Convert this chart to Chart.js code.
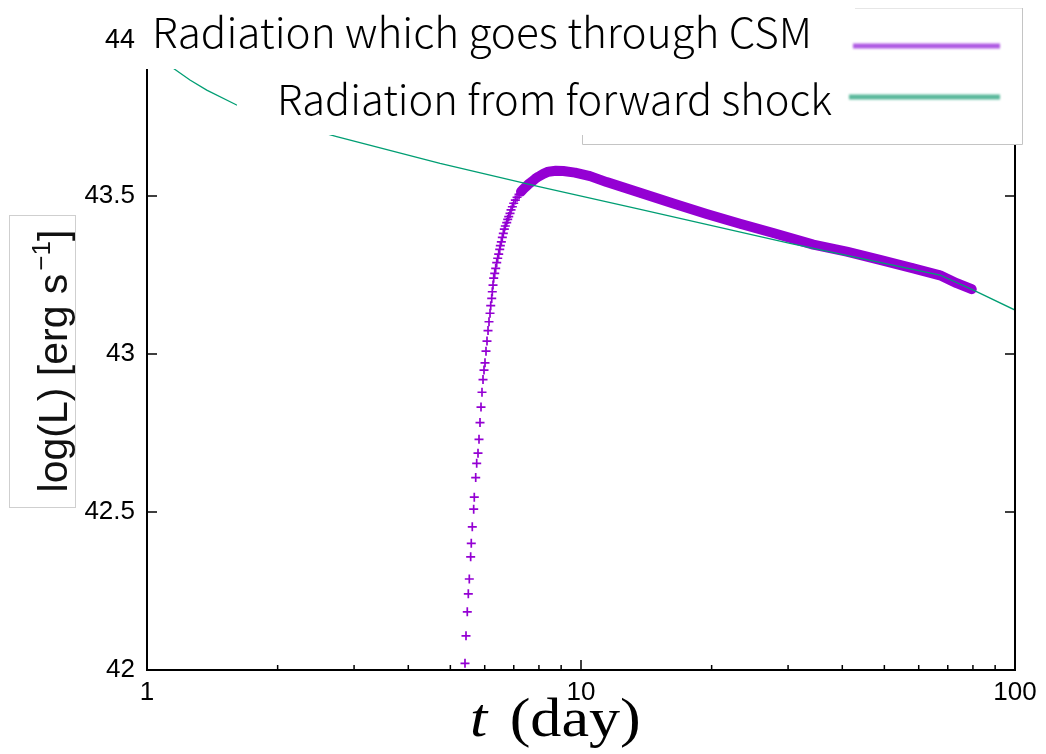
<!DOCTYPE html>
<html>
<head>
<meta charset="utf-8">
<script src="https://cdn.jsdelivr.net/npm/chart.js@4.4.1/dist/chart.umd.min.js"></script>
<style>
  html, body { margin: 0; padding: 0; background: #fff; }
  #wrap { width: 1046px; height: 754px; }
</style>
</head>
<body>
<div id="wrap"><canvas id="lc" width="1046" height="754"></canvas></div>
<script>
// forward shock: time (day) and log L
var shockT = [1.000, 1.156, 1.256, 1.373, 1.609, 2.08, 2.736, 4.733, 8.046, 13.7, 30.30, 67.18, 80.88, 100];
var shockL = [43.962, 43.902, 43.867, 43.835, 43.788, 43.734, 43.688, 43.603, 43.529, 43.458, 43.350, 43.250, 43.200, 43.139];

// radiation through the CSM: time (day) and log L
var csmT = [5.404, 5.433, 5.470, 5.500, 5.529, 5.569, 5.587, 5.617, 5.659, 5.677,
            5.720, 5.750, 5.790, 5.821, 5.852, 5.883, 5.914, 5.946, 5.977, 6.009,
            6.041, 6.073, 6.106, 6.138, 6.171, 6.194, 6.227, 6.246, 6.270, 6.293,
            6.327, 6.360, 6.394, 6.428, 6.462, 6.497, 6.518, 6.553, 6.587, 6.622,
            6.658, 6.693, 6.743, 6.779, 6.815, 6.862, 6.899, 6.947, 6.998, 7.058,
            7.122, 7.198, 7.275, 7.364, 7.458, 7.562, 7.699, 7.836, 7.974, 8.188,
            8.408, 8.75, 9.105, 9.687, 10.49, 11.46, 13.68, 16.32, 19.48, 23.25,
            27.74, 34.30, 40.95, 48.86, 58.31, 67.18, 73.39, 79.48];
var csmL = [42.021, 42.108, 42.184, 42.241, 42.288, 42.358, 42.401, 42.453, 42.509, 42.547,
            42.609, 42.654, 42.686, 42.730, 42.783, 42.832, 42.879, 42.919, 42.949, 42.972,
            43.009, 43.041, 43.074, 43.102, 43.129, 43.153, 43.176, 43.197, 43.218, 43.240,
            43.255, 43.271, 43.289, 43.303, 43.316, 43.331, 43.343, 43.355, 43.369, 43.382,
            43.395, 43.405, 43.416, 43.426, 43.435, 43.445, 43.456, 43.466, 43.477, 43.487,
            43.496, 43.505, 43.514, 43.522, 43.529, 43.537, 43.545, 43.554, 43.561, 43.570,
            43.577, 43.580, 43.579, 43.574, 43.563, 43.544, 43.510, 43.476, 43.443, 43.412,
            43.383, 43.346, 43.324, 43.298, 43.271, 43.249, 43.224, 43.205];

var xTicks = [1, 10, 100];
var xMinor = [2, 3, 4, 5, 6, 7, 8, 9, 20, 30, 40, 50, 60, 70, 80, 90];
var yTicks = [42, 42.5, 43, 43.5, 44];
var legendLabels = ['Radiation which goes through CSM', 'Radiation from forward shock'];

var bandFrom = 7.2;   // past this day the CSM samples sit on top of each other
var purple = '#9400d3';
var green = '#009e73';

function pts(xs, ys) {
  return xs.map(function(v, i) { return { x: v, y: ys[i] }; });
}
var csmPts = pts(csmT, csmL);
var bandPts = csmPts.filter(function(p) { return p.x >= bandFrom; });

// frame, inward ticks, legend panel and axis titles
var decor = {
  id: 'decor',
  afterDraw: function(chart) {
    var ctx = chart.ctx, a = chart.chartArea;
    var xs = chart.scales.x, ys = chart.scales.y;
    ctx.save();

    ctx.strokeStyle = '#000';
    ctx.lineWidth = 1.5;
    ctx.beginPath();
    xTicks.forEach(function(v) {
      var px = xs.getPixelForValue(v);
      ctx.moveTo(px, a.bottom); ctx.lineTo(px, a.bottom - 10);
      ctx.moveTo(px, a.top); ctx.lineTo(px, a.top + 10);
    });
    xMinor.forEach(function(v) {
      var px = xs.getPixelForValue(v);
      ctx.moveTo(px, a.bottom); ctx.lineTo(px, a.bottom - 5);
      ctx.moveTo(px, a.top); ctx.lineTo(px, a.top + 5);
    });
    yTicks.forEach(function(v) {
      var py = ys.getPixelForValue(v);
      ctx.moveTo(a.left, py); ctx.lineTo(a.left + 10, py);
      ctx.moveTo(a.right, py); ctx.lineTo(a.right - 10, py);
    });
    ctx.stroke();
    ctx.lineWidth = 2;
    ctx.strokeRect(a.left, a.top, a.right - a.left, a.bottom - a.top);

    // pasted legend panel
    ctx.fillStyle = '#fff';
    ctx.fillRect(140, 0, 883, 69);
    ctx.fillRect(237, 60, 346, 75);
    ctx.fillRect(582, 0, 441, 145);
    ctx.strokeStyle = '#c4c4c4';
    ctx.lineWidth = 1;
    ctx.beginPath();
    ctx.moveTo(582.5, 135); ctx.lineTo(582.5, 144.5); ctx.lineTo(1022.5, 144.5); ctx.lineTo(1022.5, 8);
    ctx.stroke();
    ctx.strokeStyle = '#e6e6e6';
    ctx.beginPath();
    ctx.moveTo(855, 8.5); ctx.lineTo(1022, 8.5);
    ctx.stroke();

    ctx.fillStyle = '#000';
    ctx.textBaseline = 'alphabetic';
    ctx.textAlign = 'left';
    ctx.font = '300 41px "Noto Sans CJK JP"';
    var rows = [[152, 48, 660], [277, 115, 555]];
    rows.forEach(function(r, i) {
      var w = ctx.measureText(legendLabels[i]).width;
      ctx.save();
      ctx.translate(r[0], r[1]);
      ctx.scale(r[2] / w, 1);
      ctx.fillText(legendLabels[i], 0, 0);
      ctx.restore();
    });

    ctx.lineCap = 'butt';
    ctx.filter = 'blur(0.8px)';
    ctx.lineWidth = 5;
    ctx.strokeStyle = 'rgba(170, 80, 225, 0.95)';
    ctx.beginPath(); ctx.moveTo(853, 46); ctx.lineTo(1000, 46); ctx.stroke();
    ctx.strokeStyle = 'rgba(80, 180, 150, 0.95)';
    ctx.beginPath(); ctx.moveTo(849, 97); ctx.lineTo(1000, 97); ctx.stroke();
    ctx.filter = 'none';

    // y axis title in its own box
    ctx.fillStyle = '#fff';
    ctx.fillRect(9, 215, 67, 293);
    ctx.lineWidth = 1;
    ctx.strokeStyle = '#cfcfcf';
    ctx.strokeRect(9.5, 215.5, 66, 292);
    ctx.fillStyle = '#111';
    var main = 'log(L) [erg s', sup = '\u22121', tail = ']';
    ctx.font = '41px "Liberation Sans"';
    var w1 = ctx.measureText(main).width, w3 = ctx.measureText(tail).width;
    ctx.font = '26px "Liberation Sans"';
    var w2 = ctx.measureText(sup).width + 3;
    var total = w1 + w2 + w3;
    ctx.save();
    ctx.translate(67, 361);
    ctx.rotate(-Math.PI / 2);
    ctx.font = '41px "Liberation Sans"';
    ctx.fillText(main, -total / 2, 0);
    ctx.fillText(tail, -total / 2 + w1 + w2, 0);
    ctx.font = '26px "Liberation Sans"';
    ctx.fillText(sup, -total / 2 + w1 + 3, -17);
    ctx.restore();

    // x axis title
    ctx.fillStyle = '#000';
    ctx.save();
    ctx.translate(470, 736);
    ctx.scale(1.15, 1);
    ctx.font = 'italic 54px "Liberation Serif"';
    ctx.fillText('t', 0, 0);
    var tw = ctx.measureText('t ').width;
    ctx.font = '54px "Liberation Serif"';
    ctx.fillText('(day)', tw + 6, 0);
    ctx.restore();

    ctx.restore();
  }
};

new Chart(document.getElementById('lc'), {
  type: 'scatter',
  data: {
    datasets: [{
      label: legendLabels[1],
      data: pts(shockT, shockL),
      showLine: true,
      borderColor: green,
      borderWidth: 1.3,
      pointRadius: 0,
      tension: 0,
      order: 0
    }, {
      label: legendLabels[0],
      data: bandPts,
      showLine: true,
      borderColor: purple,
      borderWidth: 10,
      borderCapStyle: 'round',
      borderJoinStyle: 'round',
      pointRadius: 0,
      tension: 0,
      order: 1
    }, {
      label: legendLabels[0],
      data: csmPts,
      showLine: false,
      pointStyle: 'cross',
      pointRadius: 4.5,
      pointBorderWidth: 1.7,
      borderColor: purple,
      backgroundColor: purple,
      order: 2
    }]
  },
  options: {
    responsive: false,
    animation: false,
    layout: { padding: { top: 38, right: 31, left: 0, bottom: 0 } },
    plugins: {
      legend: { display: false },
      tooltip: { enabled: false }
    },
    scales: {
      x: {
        type: 'logarithmic',
        min: 1,
        max: 100,
        grid: { display: false, drawTicks: false },
        border: { display: false },
        afterFit: function(s) { s.height = 84; },
        afterBuildTicks: function(s) {
          s.ticks = xTicks.map(function(v) { return { value: v }; });
        },
        ticks: {
          autoSkip: false,
          maxRotation: 0,
          padding: 7,
          color: '#000',
          font: { family: 'Liberation Sans', size: 26 },
          callback: function(v) { return String(v); }
        }
      },
      y: {
        min: 42,
        max: 44,
        grid: { display: false, drawTicks: false },
        border: { display: false },
        afterFit: function(s) { s.width = 147; },
        afterBuildTicks: function(s) {
          s.ticks = yTicks.map(function(v) { return { value: v }; });
        },
        ticks: {
          padding: 12,
          color: '#000',
          font: function(c) {
            if (c.tick && c.tick.value === 44) return { family: 'Noto Sans CJK JP', size: 27 };
            return { family: 'Liberation Sans', size: 26 };
          },
          callback: function(v) { return String(v); }
        }
      }
    }
  },
  plugins: [decor]
});
</script>
</body>
</html>
